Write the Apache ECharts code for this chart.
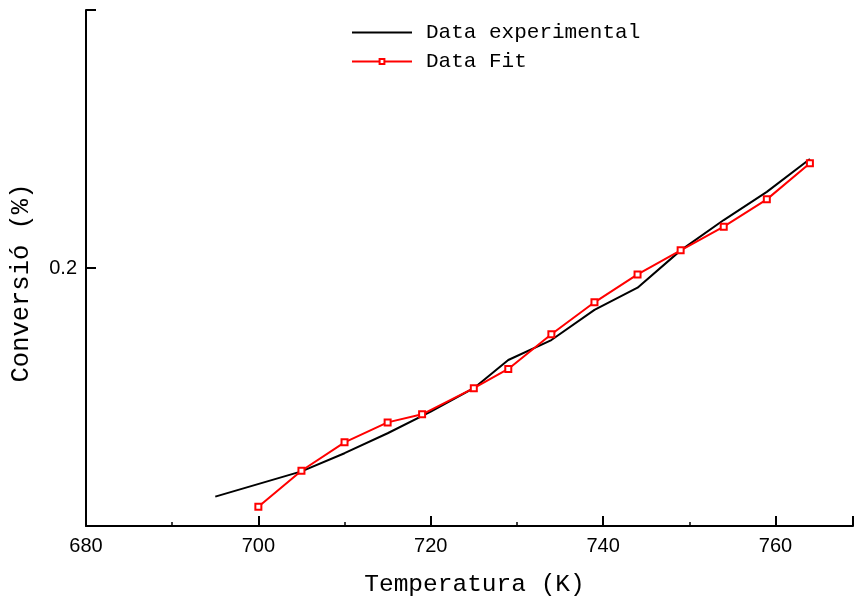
<!DOCTYPE html>
<html>
<head>
<meta charset="utf-8">
<script src="https://cdn.jsdelivr.net/npm/echarts@6/dist/echarts.min.js"></script>
<style>html,body{margin:0;padding:0;background:#fff}#c{width:854px;height:598px}</style>
</head>
<body>
<div id="c"></div>
<script>
// Data experimental (temperature K, conversion)
var expT = [695, 705, 710, 715, 720, 725, 729, 734, 739, 744, 749, 754, 759, 764];
var expY = [0.1082, 0.1158, 0.1216, 0.1283, 0.1360, 0.1448, 0.1562, 0.1648, 0.1787, 0.1897, 0.2097, 0.2275, 0.2454, 0.2680];
// Data Fit
var fitT = [700, 705, 710, 715, 719, 725, 729, 734, 739, 744, 749, 754, 759, 764];
var fitY = [0.1053, 0.1160, 0.1252, 0.1321, 0.1350, 0.1448, 0.1525, 0.1674, 0.1824, 0.1966, 0.2097, 0.2235, 0.2405, 0.2650];
// axis ticks
var yLabelValues = [0.2];
var yTickValues = [0.2, 0.4];

var mono = '"Liberation Mono", "Courier New", monospace';
var narrow = '"Liberation Sans Narrow", "Arial Narrow", "Liberation Sans", Arial, sans-serif';

var chart = echarts.init(document.getElementById('c'), null, {renderer: 'canvas'});
chart.setOption({
  animation: false,
  backgroundColor: '#fff',
  grid: {left: 86, right: 1, top: 10, bottom: 72, containLabel: false, outerBoundsMode: 'none'},
  legend: {
    orient: 'vertical', left: 346, top: 17,
    itemWidth: 60, itemHeight: 6, itemGap: 8,
    textStyle: {fontFamily: mono, fontSize: 21, color: '#000', padding: [0, 0, 0, 9]},
    data: [
      {name: 'Data experimental', itemStyle: {opacity: 0, borderWidth: 0}},
      {name: 'Data Fit'}
    ]
  },
  xAxis: {
    type: 'value', min: 680, max: 769, interval: 20,
    name: 'Temperatura (K)', nameLocation: 'middle', nameGap: 46,
    nameTextStyle: {fontFamily: mono, fontSize: 24.5, color: '#000', padding: [0, 0, 0, 10]},
    axisLine: {show: true, onZero: false, lineStyle: {color: '#000', width: 2}},
    axisTick: {show: true, inside: true, length: 10, lineStyle: {color: '#000', width: 2}},
    minorTick: {show: true, splitNumber: 2, length: 4, lineStyle: {color: '#000', width: 1.5}},
    axisLabel: {fontFamily: narrow, fontSize: 20, color: '#000', margin: 10, showMaxLabel: false,
      formatter: function (v) { return v % 20 === 0 ? String(v) : ''; }},
    splitLine: {show: false}, minorSplitLine: {show: false}
  },
  yAxis: {
    type: 'log', logBase: 10, min: 0.1, max: 0.4,
    name: 'Conversió (%)', nameLocation: 'middle', nameGap: 52,
    nameTextStyle: {fontFamily: mono, fontSize: 25.5, color: '#000', padding: [0, 30, 0, 0]},
    axisLine: {show: true, onZero: false, lineStyle: {color: '#000', width: 2}},
    axisTick: {show: true, inside: true, length: 10, customValues: yTickValues, lineStyle: {color: '#000', width: 2}},
    axisLabel: {fontFamily: narrow, fontSize: 20, color: '#000', margin: 9, customValues: yLabelValues,
      formatter: function (v) { return String(Math.round(v * 10) / 10); }},
    splitLine: {show: false}
  },
  series: [
    {
      name: 'Data experimental', type: 'line',
      data: expT.map(function (t, i) { return [t, expY[i]]; }),
      symbol: 'none',
      lineStyle: {color: '#000', width: 2},
      itemStyle: {color: '#000'}
    },
    {
      name: 'Data Fit', type: 'line',
      data: fitT.map(function (t, i) { return [t, fitY[i]]; }),
      symbol: 'rect', symbolSize: 6,
      lineStyle: {color: '#ff0000', width: 2},
      itemStyle: {color: '#fff', borderColor: '#ff0000', borderWidth: 2}
    }
  ]
});
</script>
</body>
</html>
